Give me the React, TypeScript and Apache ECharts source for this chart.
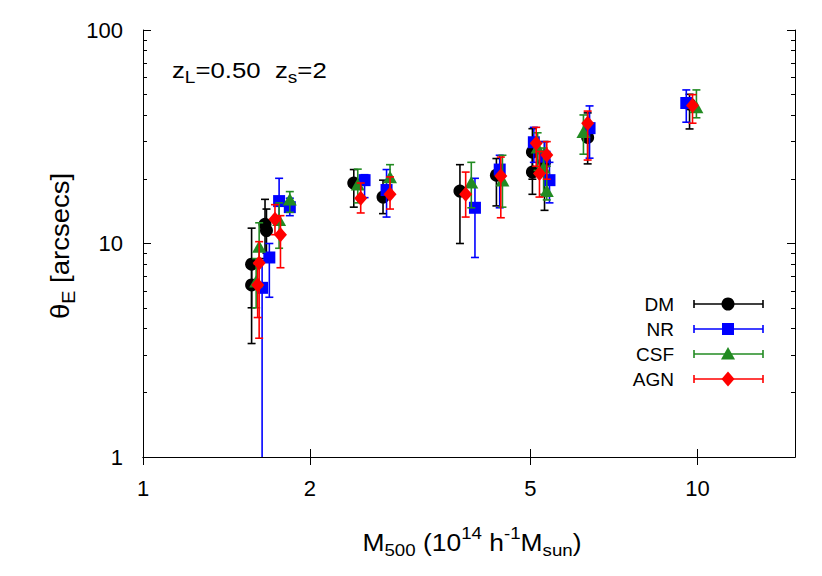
import React, { useEffect, useRef } from 'react';
import * as echarts from 'echarts';

// Each point: [M500 (1e14 h^-1 Msun), thetaE (arcsec), lower error end, upper error end]
const seriesNames = ['DM', 'NR', 'CSF', 'AGN'];
const seriesColors = ['#000000', '#0000ff', '#228b22', '#ff0000'];
const seriesMarkers = ['circle', 'square', 'triangle', 'diamond'];

const dmData = [
  [1.57, 8.0, 3.4, 11.8],
  [1.57, 6.4, 5.0, 8.0],
  [1.66, 12.3, 8.5, 16.1],
  [1.67, 11.5, 9.0, 14.5],
  [2.4, 19.2, 14.8, 22.2],
  [2.71, 16.5, 13.8, 19.8],
  [3.73, 17.6, 10.0, 23.4],
  [4.34, 20.9, 15.0, 25.0],
  [5.04, 26.8, 20.0, 34.5],
  [5.04, 21.6, 17.0, 27.0],
  [5.3, 24.0, 14.3, 30.0],
  [6.34, 31.4, 23.6, 40.9],
  [9.68, 45.0, 34.4, 50.0],
];
const nrData = [
  [1.69, 8.6, 5.6, 10.0],
  [1.64, 6.2, 0.5, 8.3],
  [1.76, 15.8, 12.5, 20.2],
  [1.84, 14.8, 13.5, 16.3],
  [2.51, 19.8, 16.4, 21.0],
  [2.75, 17.8, 13.3, 22.2],
  [3.97, 14.7, 8.6, 20.2],
  [4.4, 22.2, 14.7, 25.9],
  [5.07, 29.8, 24.0, 35.0],
  [5.3, 25.5, 21.0, 30.0],
  [5.41, 19.8, 15.5, 24.0],
  [6.39, 34.7, 25.1, 44.1],
  [9.55, 45.5, 37.0, 52.4],
];
const csfData = [
  [1.62, 9.6, 8.0, 12.5],
  [1.6, 6.6, 5.0, 8.5],
  [1.76, 12.8, 9.5, 15.5],
  [1.84, 16.0, 14.0, 17.5],
  [2.44, 18.8, 15.5, 22.3],
  [2.79, 20.3, 17.0, 23.4],
  [3.91, 19.2, 14.7, 24.0],
  [4.45, 19.6, 14.8, 25.9],
  [5.15, 28.0, 22.0, 33.0],
  [5.28, 22.6, 17.0, 28.0],
  [5.35, 17.5, 16.0, 23.0],
  [6.23, 33.1, 26.2, 40.0],
  [9.96, 43.2, 38.8, 52.4],
];
const agnData = [
  [1.62, 8.1, 3.6, 10.2],
  [1.61, 6.4, 4.5, 8.0],
  [1.73, 13.0, 11.0, 15.2],
  [1.77, 11.0, 7.7, 13.5],
  [2.47, 16.3, 13.9, 19.2],
  [2.79, 17.0, 14.5, 20.5],
  [3.82, 17.0, 13.3, 21.6],
  [4.42, 20.7, 13.2, 25.4],
  [5.12, 29.5, 23.0, 35.0],
  [5.35, 26.0, 20.0, 30.0],
  [5.19, 21.3, 16.5, 27.0],
  [6.34, 36.6, 24.6, 41.7],
  [9.8, 44.3, 36.6, 49.8],
];
const allData = [dmData, nrData, csfData, agnData];

const xMin = 1;
const xMax = 15;
const yMin = 1;
const yMax = 100;
const xTickValues = [1, 2, 5, 10];
const yMajorTicks = [1, 10, 100];
const yMinorTicks = [2, 3, 4, 5, 6, 7, 8, 9, 20, 30, 40, 50, 60, 70, 80, 90];

const FONT = '"Liberation Sans", Arial, Helvetica, sans-serif';
const lg = (v: number) => Math.log10(v);

function makeMarker(kind: string, cx: number, cy: number, color: string): any {
  if (kind === 'circle') {
    return { type: 'circle', shape: { cx, cy, r: 6.5 }, style: { fill: color } };
  }
  if (kind === 'square') {
    return { type: 'rect', shape: { x: cx - 6, y: cy - 6, width: 12, height: 12 }, style: { fill: color } };
  }
  if (kind === 'triangle') {
    return {
      type: 'polygon',
      shape: { points: [[cx, cy - 7], [cx + 7, cy + 5.5], [cx - 7, cy + 5.5]] },
      style: { fill: color },
    };
  }
  return {
    type: 'polygon',
    shape: { points: [[cx, cy - 7.5], [cx + 6.5, cy], [cx, cy + 7.5], [cx - 6.5, cy]] },
    style: { fill: color },
  };
}

function makeSeries(idx: number): any {
  const color = seriesColors[idx];
  const kind = seriesMarkers[idx];
  return {
    type: 'custom',
    name: seriesNames[idx],
    xAxisIndex: 0,
    yAxisIndex: 0,
    data: allData[idx].map((d) => [lg(d[0]), lg(d[1]), lg(d[2]), lg(d[3])]),
    renderItem: (params: any, api: any) => {
      const x = api.value(0);
      const p = api.coord([x, api.value(1)]);
      const pl = api.coord([x, api.value(2)]);
      const ph = api.coord([x, api.value(3)]);
      const cs = params.coordSys;
      const bottom = cs.y + cs.height;
      const top = cs.y;
      const ls = { stroke: color, lineWidth: 1.6 };
      const children: any[] = [];
      let lowY = pl[1];
      let lowCap = true;
      if (lowY > bottom) {
        lowY = bottom;
        lowCap = false;
      }
      let highY = ph[1];
      let highCap = true;
      if (highY < top) {
        highY = top;
        highCap = false;
      }
      children.push({ type: 'line', shape: { x1: p[0], y1: lowY, x2: p[0], y2: highY }, style: ls });
      if (lowCap) children.push({ type: 'line', shape: { x1: p[0] - 4, y1: lowY, x2: p[0] + 4, y2: lowY }, style: ls });
      if (highCap) children.push({ type: 'line', shape: { x1: p[0] - 4, y1: highY, x2: p[0] + 4, y2: highY }, style: ls });
      children.push(makeMarker(kind, p[0], p[1], color));
      return { type: 'group', children };
    },
  };
}

function richStyles(size: number) {
  const sub = Math.round(size * 0.72);
  return {
    n: { fontSize: size, lineHeight: Math.round(size * 1.4), verticalAlign: 'middle', fontFamily: FONT, color: '#000' },
    sub: { fontSize: sub, lineHeight: sub, verticalAlign: 'bottom', fontFamily: FONT, color: '#000' },
    sup: { fontSize: sub, lineHeight: sub, verticalAlign: 'top', fontFamily: FONT, color: '#000' },
  };
}

export default function App() {
  const ref = useRef<HTMLDivElement>(null);
  useEffect(() => {
    if (!ref.current) return;
    const chart = echarts.init(ref.current, undefined, { renderer: 'svg' });
    const xl = xTickValues.map(lg);
    const axisLineStyle = { show: true, lineStyle: { color: '#000', width: 1 } };
    const baseX = { type: 'value', min: lg(xMin), max: lg(xMax), splitLine: { show: false } };
    const baseY = { type: 'value', min: lg(yMin), max: lg(yMax), splitLine: { show: false } };

    const legendGraphics: any[] = [];
    const rowY = [304, 329, 354, 379];
    seriesNames.forEach((name, i) => {
      const y = rowY[i];
      const c = seriesColors[i];
      const ls = { stroke: c, lineWidth: 1.6 };
      legendGraphics.push({
        type: 'text',
        x: 674,
        y,
        style: { text: name, fontSize: 19, fontFamily: FONT, fill: '#000', align: 'right', verticalAlign: 'middle' },
      });
      legendGraphics.push({ type: 'line', shape: { x1: 694, y1: y, x2: 763, y2: y }, style: ls });
      legendGraphics.push({ type: 'line', shape: { x1: 694, y1: y - 4, x2: 694, y2: y + 4 }, style: ls });
      legendGraphics.push({ type: 'line', shape: { x1: 763, y1: y - 4, x2: 763, y2: y + 4 }, style: ls });
      legendGraphics.push(makeMarker(seriesMarkers[i], 728, y, c));
    });

    const tickLabelStyle = {
      formatter: (v: number) => String(Math.round(Math.pow(10, v))),
      fontSize: 22,
      fontFamily: FONT,
      color: '#000',
    };

    chart.setOption({
      animation: false,
      backgroundColor: '#ffffff',
      grid: { left: 143, right: 27, top: 30, bottom: 119, containLabel: false },
      xAxis: [
        {
          ...baseX,
          position: 'bottom',
          axisLine: axisLineStyle,
          axisTick: { show: true, inside: true, length: 8, customValues: xl, lineStyle: { color: '#000' } },
          axisLabel: { show: true, customValues: xl, margin: 20, ...tickLabelStyle },
        },
        {
          ...baseX,
          position: 'top',
          axisLine: axisLineStyle,
          axisTick: { show: true, inside: true, length: 8, customValues: xl, lineStyle: { color: '#000' } },
          axisLabel: { show: false },
        },
      ],
      yAxis: [
        {
          ...baseY,
          position: 'left',
          axisLine: axisLineStyle,
          axisTick: { show: true, inside: true, length: 8, customValues: yMajorTicks.map(lg), lineStyle: { color: '#000' } },
          axisLabel: { show: true, customValues: yMajorTicks.map(lg), margin: 20, ...tickLabelStyle },
        },
        {
          ...baseY,
          position: 'left',
          axisLine: { show: false },
          axisTick: { show: true, inside: true, length: 4, customValues: yMinorTicks.map(lg), lineStyle: { color: '#000' } },
          axisLabel: { show: false },
        },
        {
          ...baseY,
          position: 'right',
          axisLine: axisLineStyle,
          axisTick: { show: true, inside: true, length: 8, customValues: yMajorTicks.map(lg), lineStyle: { color: '#000' } },
          axisLabel: { show: false },
        },
        {
          ...baseY,
          position: 'right',
          axisLine: { show: false },
          axisTick: { show: true, inside: true, length: 4, customValues: yMinorTicks.map(lg), lineStyle: { color: '#000' } },
          axisLabel: { show: false },
        },
      ],
      series: [0, 1, 2, 3].map(makeSeries),
      graphic: [
        {
          type: 'text',
          x: 472,
          y: 542,
          scaleX: 1.1,
          style: {
            text: '{n|M}{sub|500}{n| (10}{sup|14}{n| h}{sup|-1}{n|M}{sub|sun}{n|)}',
            rich: richStyles(24),
            align: 'center',
            verticalAlign: 'middle',
          },
        },
        {
          type: 'text',
          x: 60,
          y: 246,
          rotation: Math.PI / 2,
          scaleX: 1.1,
          style: {
            text: '{n|θ}{sub|E}{n| [arcsecs]}',
            rich: richStyles(25),
            align: 'center',
            verticalAlign: 'middle',
          },
        },
        {
          type: 'text',
          x: 172,
          y: 70,
          scaleX: 1.12,
          style: {
            text: '{n|z}{sub|L}{n|=0.50  z}{sub|s}{n|=2}',
            rich: richStyles(23),
            align: 'left',
            verticalAlign: 'middle',
          },
        },
        ...legendGraphics,
      ],
    });
    return () => chart.dispose();
  }, []);
  return (
    <div
      ref={ref}
      style={{ position: 'fixed', left: 0, top: 0, width: 822, height: 576, background: '#fff' }}
    />
  );
}
